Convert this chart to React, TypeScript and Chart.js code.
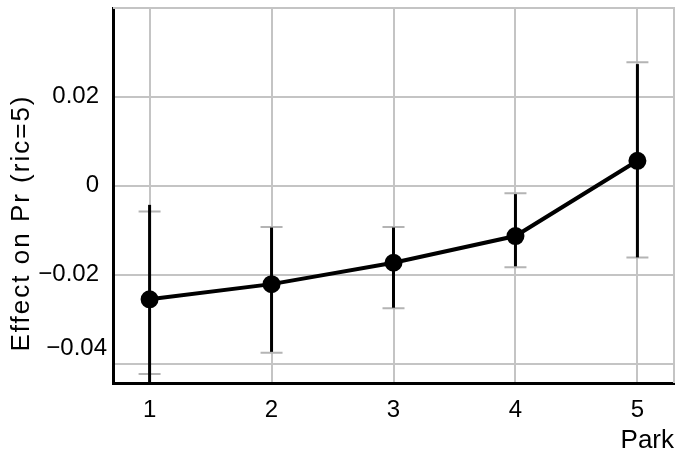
import React, { useEffect, useRef } from "react";
import { Chart, registerables } from "chart.js";

Chart.register(...registerables);

const categories = [1, 2, 3, 4, 5];
const estimates = [-0.0255, -0.0221, -0.0173, -0.0113, 0.0056];
const barLow = [-0.0465, -0.0373, -0.0274, -0.0181, -0.0161];
const barHigh = [-0.0043, -0.0094, -0.0094, -0.0019, 0.0273];
const capLow = [-0.0423, -0.0375, -0.0275, -0.0183, -0.0161];
const capHigh = [-0.0058, -0.0093, -0.0093, -0.0017, 0.0277];
const yTickValues = [-0.04, -0.02, 0, 0.02];
const xTitle = "Park";
const yTitle = "Effect on Pr (ric=5)";

const FONT = "'Liberation Sans', Arial, sans-serif";
const GRID = "#c4c4c4";

const fmtY = (v: number) => {
  if (Math.abs(v) < 1e-9) return "0";
  return (v < 0 ? "\u2212" : "") + Math.abs(v).toFixed(2);
};

const errorBarPlugin = {
  id: "errorBars",
  beforeDatasetsDraw(chart: any) {
    const { ctx, chartArea, scales } = chart;
    const xs = scales.x;
    const ys = scales.y;
    ctx.save();
    ctx.strokeStyle = GRID;
    ctx.lineWidth = 2;
    ctx.beginPath();
    ctx.moveTo(chartArea.left, chartArea.top);
    ctx.lineTo(chartArea.right, chartArea.top);
    ctx.lineTo(chartArea.right, chartArea.bottom);
    ctx.stroke();
    ctx.beginPath();
    ctx.rect(chartArea.left, chartArea.top, chartArea.right - chartArea.left, chartArea.bottom - chartArea.top);
    ctx.clip();
    categories.forEach((c, i) => {
      const x = xs.getPixelForValue(c);
      const yl = ys.getPixelForValue(capLow[i]);
      const yh = ys.getPixelForValue(capHigh[i]);
      ctx.strokeStyle = "#b4b4b4";
      ctx.lineWidth = 2;
      ctx.beginPath();
      ctx.moveTo(x - 11, yl);
      ctx.lineTo(x + 11, yl);
      ctx.moveTo(x - 11, yh);
      ctx.lineTo(x + 11, yh);
      ctx.moveTo(x, yl);
      ctx.lineTo(x, yh);
      ctx.stroke();
      const bl = ys.getPixelForValue(barLow[i]);
      const bh = ys.getPixelForValue(barHigh[i]);
      ctx.strokeStyle = "#000";
      ctx.lineWidth = 3;
      ctx.beginPath();
      ctx.moveTo(x, bl);
      ctx.lineTo(x, bh);
      ctx.stroke();
    });
    ctx.restore();
  },
  afterDraw(chart: any) {
    const { ctx, chartArea, scales } = chart;
    const ys = scales.y;
    ctx.save();
    ctx.fillStyle = "#000";
    ctx.font = `24px ${FONT}`;
    ctx.textAlign = "right";
    ctx.textBaseline = "middle";
    yTickValues.forEach((v) => {
      let y = ys.getPixelForValue(v);
      let x = chartArea.left - 14;
      if (chartArea.bottom - y < 25) {
        // label too close to the x axis: nudged up and right
        y -= 15;
        x += 8;
      }
      ctx.fillText(fmtY(v), x, y);
    });
    ctx.font = `26px ${FONT}`;
    (ctx as any).letterSpacing = "2px";
    ctx.textAlign = "center";
    ctx.translate(22, 223);
    ctx.rotate(-Math.PI / 2);
    ctx.fillText(yTitle, 0, 0);
    ctx.restore();
  },
};

export default function App() {
  const ref = useRef<HTMLCanvasElement>(null);
  useEffect(() => {
    if (!ref.current) return;
    const chart = new Chart(ref.current, {
      type: "line",
      data: {
        datasets: [
          {
            data: categories.map((c, i) => ({ x: c, y: estimates[i] })),
            borderColor: "#000",
            backgroundColor: "#000",
            borderWidth: 4,
            pointRadius: 7,
            pointHoverRadius: 7,
            pointBackgroundColor: "#000",
            pointBorderColor: "#000",
            tension: 0,
          },
        ],
      },
      options: {
        responsive: false,
        animation: false,
        devicePixelRatio: 1,
        layout: { autoPadding: false, padding: { top: 8, right: 5, left: 0, bottom: 0 } },
        plugins: { legend: { display: false }, tooltip: { enabled: false } },
        scales: {
          x: {
            type: "linear",
            min: 0.7,
            max: 5.3,
            afterBuildTicks: (s: any) => {
              s.ticks = categories.map((v) => ({ value: v }));
            },
            afterFit: (s: any) => {
              s.height = 75;
              s.paddingLeft = 0;
              s.paddingRight = 0;
            },
            grid: { color: GRID, lineWidth: 2, drawTicks: false },
            border: { display: true, color: "#000", width: 3 },
            ticks: {
              padding: 13,
              color: "#000",
              font: { family: FONT, size: 24 },
              callback: (v: any) => String(v),
            },
            title: {
              display: true,
              text: xTitle,
              align: "end",
              color: "#000",
              font: { family: FONT, size: 26 },
              padding: { top: 0, bottom: 2 },
            },
          },
          y: {
            type: "linear",
            min: -0.0443,
            max: 0.0399,
            afterBuildTicks: (s: any) => {
              s.ticks = yTickValues.map((v) => ({ value: v }));
            },
            afterFit: (s: any) => {
              s.width = 113;
              s.paddingTop = 0;
              s.paddingBottom = 0;
            },
            grid: { color: GRID, lineWidth: 2, drawTicks: false },
            border: { display: true, color: "#000", width: 3 },
            ticks: { display: false },
          },
        },
      },
      plugins: [errorBarPlugin],
    } as any);
    return () => chart.destroy();
  }, []);
  return (
    <div style={{ position: "absolute", left: 0, top: 0, width: 679, height: 458, background: "#fff" }}>
      <canvas ref={ref} width={679} height={458} style={{ display: "block" }} />
    </div>
  );
}
